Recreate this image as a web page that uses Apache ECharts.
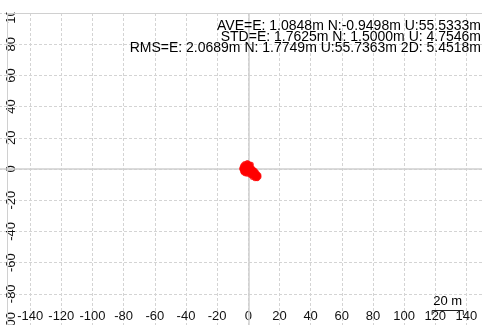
<!DOCTYPE html>
<html><head><meta charset="utf-8">
<script src="https://cdn.jsdelivr.net/npm/echarts@6/dist/echarts.min.js"></script>
<style>html,body{margin:0;padding:0;background:#fff}#c{width:482px;height:325px}</style>
</head><body><div id="c"></div>
<script>
// Scatter data (E, N in metres)
const eastValues = [-2.3,-1.1,0.2,0.9, -3.2,-2.0,-0.8,0.5,1.6, -3.8,-2.7,-1.5,-0.2,1.1,2.2, -4.0,-2.9,-1.6,-0.4,0.8,2.0,3.1,
  -3.9,-2.6,-1.3,-0.1,1.2,2.4,3.6,4.4, -3.6,-2.4,-1.0,0.3,1.6,2.9,4.1,5.2, -3.1,-1.7,-0.3,1.0,2.3,3.6,4.9,6.0,
  -0.9,0.7,2.1,3.4,4.7,5.9,6.8, 1.5,2.8,4.1,5.3,6.5,6.9, 2.7,4.0,5.2,6.3, 4.3,5.7, -1.8,0.4,2.6,-0.5,3.9,
  -0.6,-3.4,-4.2,-2.2,1.9,5.5];
const northValues = [3.6,3.4,3.5,3.2, 2.7,2.5,2.6,2.4,2.2, 1.7,1.5,1.6,1.4,1.5,1.1, 0.7,0.5,0.6,0.4,0.6,0.5,0.1,
  -0.3,-0.5,-0.4,-0.6,-0.3,-0.5,-0.6,-1.0, -1.3,-1.5,-1.4,-1.3,-1.6,-1.4,-1.5,-2.0, -2.3,-2.5,-2.4,-2.6,-2.3,-2.5,-2.6,-3.0,
  -3.3,-3.5,-3.4,-3.6,-3.3,-3.5,-3.8, -4.4,-4.5,-4.3,-4.6,-4.4,-4.9, -5.4,-5.5,-5.3,-5.6, -6.2,-6.3, 0.9,-0.9,-2.9,1.9,-4.8,
  4.1,-1.9,0.2,-3.1,3.0,-5.9];
// Axis ticks
const xMin = -160, xMax = 150, xStep = 20;
const yMin = -100, yMax = 100, yStep = 20;
// Statistics text
const statLines = [
  'AVE=E: 1.0848m N:-0.9498m U:55.5333m',
  'STD=E: 1.7625m N: 1.5000m U: 4.7546m',
  'RMS=E: 2.0689m N: 1.7749m U:55.7363m 2D: 5.4518m'
];
const scaleLength = 20;
const scaleLabel = '20 m';

const points = eastValues.map((e, i) => [e, northValues[i]]);
const FONT = '"Liberation Sans", Arial, sans-serif';
const gridColor = '#d4d4d4';
const chart = echarts.init(document.getElementById('c'), null, {renderer: 'canvas'});
chart.setOption({
  animation: false,
  grid: {left: -1, right: 0, top: 13, bottom: 0, containLabel: false, outerBoundsMode: 'none'},
  xAxis: {
    type: 'value', min: xMin, max: xMax, interval: xStep,
    axisLine: {show: false}, axisTick: {show: false},
    splitLine: {show: true, lineStyle: {color: gridColor, type: [3, 2], width: 1}},
    axisLabel: {inside: true, margin: 2, color: '#111', fontSize: 13, fontFamily: FONT,
      showMinLabel: false, formatter: v => (v === xMin ? '' : String(v))}
  },
  yAxis: {
    type: 'value', min: yMin, max: yMax, interval: yStep,
    axisLine: {show: false}, axisTick: {show: false},
    splitLine: {show: true, lineStyle: {color: gridColor, type: [3, 2], width: 1}},
    axisLabel: {inside: true, rotate: 90, margin: 6, color: '#111', fontSize: 13, fontFamily: FONT,
      showMinLabel: true, showMaxLabel: true}
  },
  series: [{
    type: 'scatter', data: points, symbol: 'circle', symbolSize: 5,
    itemStyle: {color: '#ff0000'}, z: 5,
    markLine: {
      silent: true, symbol: 'none', label: {show: false},
      lineStyle: {color: '#cfcfcf', type: 'solid', width: 1.5},
      data: [{xAxis: 0}, {yAxis: 0}], z: 1
    }
  }]
});

const x0 = chart.convertToPixel({xAxisIndex: 0}, 118);
const x1 = chart.convertToPixel({xAxisIndex: 0}, 118 + scaleLength);
chart.setOption({
  graphic: [
    {type: 'rect', shape: {x: 0, y: 0, width: 482, height: 12.5}, style: {fill: '#fff'}, z: 100, silent: true},
    {type: 'line', shape: {x1: 7.5, y1: 13.5, x2: 482, y2: 13.5}, style: {stroke: '#d0d0d0', lineWidth: 1}, z: 101},
    {type: 'line', shape: {x1: 7.5, y1: 13.5, x2: 7.5, y2: 325}, style: {stroke: '#d0d0d0', lineWidth: 1}, z: 1},
    ...statLines.map((t, i) => ({type: 'text', right: 1, top: 19.5 + i * 10.75, z: 102,
      style: {text: t, font: '14px ' + FONT, fill: '#000', textAlign: 'right'}})),
    {type: 'polyline', shape: {points: [[x0, 315], [x0, 310.5], [x1, 310.5], [x1, 315]]},
      style: {stroke: '#222', lineWidth: 1, fill: null}, z: 102},
    {type: 'text', x: (x0 + x1) / 2, y: 295, z: 102,
      style: {text: scaleLabel, font: '13px ' + FONT, fill: '#000', textAlign: 'center', textVerticalAlign: 'top'}}
  ]
});
</script></body></html>
